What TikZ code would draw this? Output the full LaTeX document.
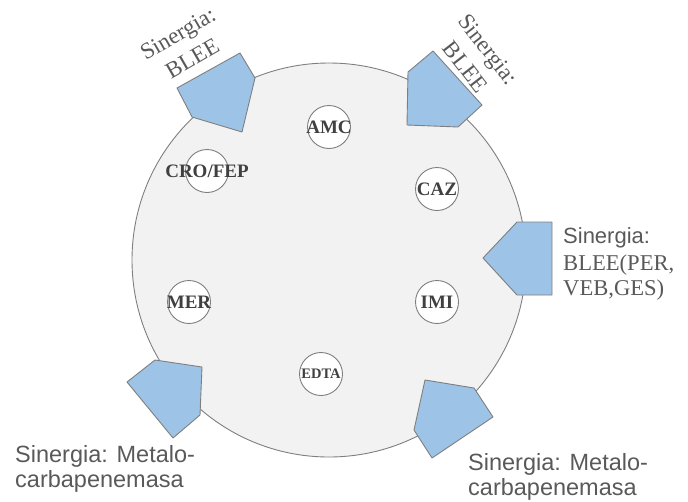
\documentclass[tikz,border=0pt]{standalone}
\usepackage{fontspec}
\setmainfont{Liberation Serif}
\newfontfamily\arialf{Liberation Sans}
\definecolor{pentblue}{HTML}{9DC3E6}
\definecolor{edgegray}{HTML}{7F7F7F}
\definecolor{bggray}{HTML}{F2F2F2}
\definecolor{txtgray}{HTML}{595959}
\definecolor{labelgray}{HTML}{404040}
\newcommand{\zw}[1]{\makebox[0pt]{#1}}
\begin{document}
\begin{tikzpicture}[x=1pt,y=-1pt,
  pent/.style={fill=pentblue, draw=edgegray, line width=0.9pt, line join=round},
  drug/.style={circle, draw=edgegray, fill=white, line width=0.9pt, minimum size=43pt, inner sep=0pt, text=labelgray, font=\fontsize{19}{19}\selectfont\bfseries},
  rotlabel/.style={text=txtgray, font=\fontsize{23}{29}\selectfont, align=center, inner sep=0pt},
  sansline/.style={text=txtgray, font=\arialf\fontsize{23.5}{25}\selectfont, anchor=base west, inner sep=0pt},
  serifline/.style={text=txtgray, font=\fontsize{22.6}{25}\selectfont, anchor=base west, inner sep=0pt},
  sansline2/.style={text=txtgray, font=\arialf\fontsize{22}{25}\selectfont, anchor=base west, inner sep=0pt},
]
\useasboundingbox (0,0) rectangle (688,501);
% plate
\node[circle, draw=edgegray, fill=bggray, line width=0.9pt, minimum size=394pt, inner sep=0pt] (plate) at (329,260) {};
% pentagons
\draw[pent] (177,88) -- (240,53) -- (255,78) -- (242,132) -- (192,117) -- cycle;
\draw[pent] (408,72) -- (433,51) -- (482,105) -- (458,127) -- (407,125) -- cycle;
\draw[pent] (483,258) -- (517,222) -- (552,222) -- (552,295) -- (517,295) -- cycle;
\draw[pent] (127,382) -- (155,360) -- (202,367) -- (200,415) -- (173,438) -- cycle;
\draw[pent] (425,380) -- (474,388) -- (493,417) -- (432,458) -- (414,430) -- cycle;
% drug discs
\node[drug] (amc) at (329,127) {\zw{AMC}};
\node[drug] (crofep) at (207,171) {\zw{CRO/FEP}};
\node[drug] (caz) at (437,189) {\zw{CAZ}};
\node[drug] (mer) at (189,302) {\zw{MER}};
\node[drug] (imi) at (437,302) {\zw{IMI}};
\node[drug, font=\fontsize{14.5}{14.5}\selectfont\bfseries] (edta) at (321,374) {\zw{EDTA}};
% labels
\node[rotlabel, rotate=30] (tl) at (185,46) {Sinergia:\\BLEE};
\node[rotlabel, rotate=-52] (tr) at (477,58) {Sinergia:\\BLEE};
\node[sansline2] (r1) at (563,243) {Sinergia:};
\node[serifline] (r2) at (563,270) {BLEE(PER,};
\node[serifline] (r3) at (563,295) {VEB,GES)};
\node[sansline] (bl1) at (15,462) {Sinergia: Metalo-};
\node[sansline] (bl2) at (15,487) {carbapenemasa};
\node[sansline] (br1) at (468,470) {Sinergia: Metalo-};
\node[sansline] (br2) at (468,495) {carbapenemasa};
\end{tikzpicture}
\end{document}
